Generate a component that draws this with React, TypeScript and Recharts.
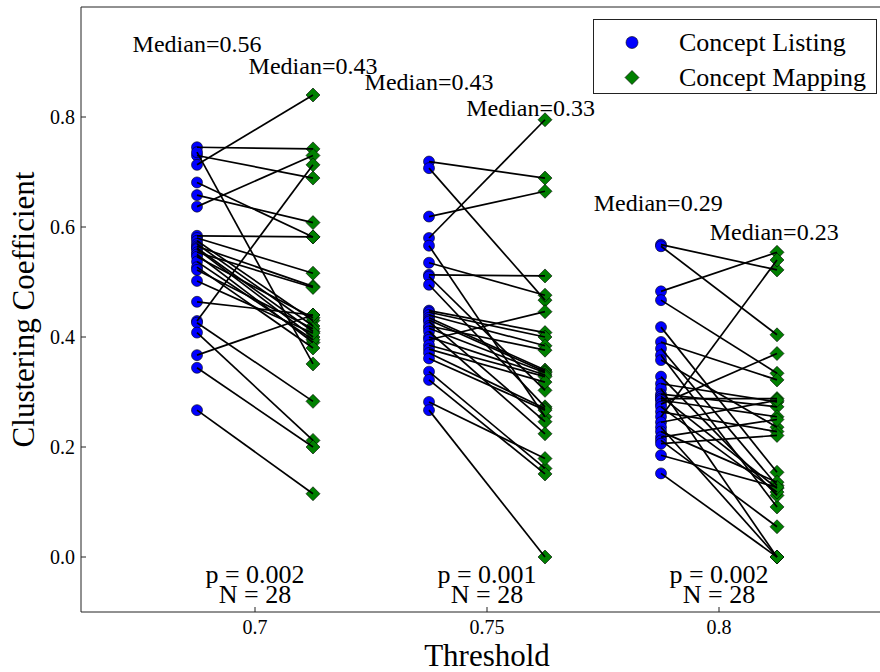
import React from 'react';
import { ComposedChart, Scatter, XAxis, YAxis, Legend, ReferenceDot, Label } from 'recharts';

const thresholds = [0.7, 0.75, 0.8];
const listingX = [0.6875, 0.7375, 0.7875];
const mappingX = [0.7125, 0.7625, 0.8125];

// threshold 0.7 — listing[i] is paired with mapping[i]
const listing070 = [0.745, 0.73, 0.736, 0.713, 0.681, 0.658, 0.637, 0.584, 0.58, 0.575, 0.569, 0.565, 0.562, 0.56, 0.554, 0.55, 0.546, 0.537, 0.527, 0.522, 0.502, 0.464, 0.429, 0.426, 0.408, 0.367, 0.344, 0.267];
const mapping070 = [0.742, 0.689, 0.351, 0.84, 0.582, 0.608, 0.73, 0.582, 0.516, 0.43, 0.42, 0.492, 0.41, 0.4, 0.49, 0.39, 0.435, 0.395, 0.38, 0.415, 0.407, 0.44, 0.713, 0.283, 0.212, 0.44, 0.2, 0.115];

// threshold 0.75
const listing075 = [0.719, 0.707, 0.619, 0.58, 0.566, 0.535, 0.513, 0.51, 0.495, 0.448, 0.445, 0.44, 0.435, 0.431, 0.428, 0.42, 0.416, 0.41, 0.4, 0.395, 0.385, 0.378, 0.371, 0.361, 0.337, 0.322, 0.282, 0.267];
const mapping075 = [0.689, 0.467, 0.665, 0.795, 0.255, 0.476, 0.511, 0.303, 0.273, 0.408, 0.4, 0.384, 0.34, 0.337, 0.246, 0.376, 0.335, 0.224, 0.331, 0.446, 0.328, 0.318, 0.27, 0.267, 0.161, 0.151, 0.179, 0.0];

// threshold 0.8
const listing080 = [0.568, 0.565, 0.483, 0.467, 0.418, 0.391, 0.379, 0.367, 0.358, 0.328, 0.315, 0.306, 0.296, 0.292, 0.288, 0.285, 0.278, 0.273, 0.264, 0.255, 0.245, 0.236, 0.228, 0.218, 0.212, 0.206, 0.185, 0.152];
const mapping080 = [0.522, 0.404, 0.554, 0.334, 0.154, 0.322, 0.13, 0.091, 0.236, 0.112, 0.282, 0.0, 0.273, 0.125, 0.288, 0.255, 0.37, 0.118, 0.228, 0.54, 0.285, 0.0, 0.136, 0.25, 0.055, 0.221, 0.127, 0.0];

const medianListing = ['0.56', '0.43', '0.29'];
const medianMapping = ['0.43', '0.33', '0.23'];
const pValues = ['0.002', '0.001', '0.002'];
const sampleSizes = [28, 28, 28];

const yTicks = [0, 0.2, 0.4, 0.6, 0.8];

// where the annotation text sits (data coords)
const medianListingPos = [[0.6875, 0.933], [0.7375, 0.864], [0.7869, 0.644]];
const medianMappingPos = [[0.7125, 0.893], [0.7594, 0.818], [0.8119, 0.591]];
const pY = -0.031;
const nY = -0.067;

const FONT = "'Liberation Serif', 'Times New Roman', serif";

const groups = [
  { listing: listing070, mapping: mapping070 },
  { listing: listing075, mapping: mapping075 },
  { listing: listing080, mapping: mapping080 },
];

const listingPoints = groups.flatMap((g, i) => g.listing.map((y) => ({ x: listingX[i], y })));
const mappingPoints = groups.flatMap((g, i) => g.mapping.map((y) => ({ x: mappingX[i], y })));
const pairs = groups.flatMap((g, i) =>
  g.listing.map((y, j) => [
    { x: listingX[i], y },
    { x: mappingX[i], y: g.mapping[j] },
  ])
);

const circleShape = (props: any) => (
  <circle cx={props.cx} cy={props.cy} r={5.5} fill="#0000ff" stroke="#000" strokeWidth={0.6} />
);

const diamondShape = (props: any) => {
  const { cx, cy } = props;
  const d = 7;
  return (
    <polygon
      points={`${cx},${cy - d} ${cx + d},${cy} ${cx},${cy + d} ${cx - d},${cy}`}
      fill="#008000"
      stroke="#000"
      strokeWidth={0.6}
    />
  );
};

const noShape = () => <g />;

const renderLegend = () => (
  <div
    style={{
      boxSizing: 'border-box',
      width: 284,
      height: 75,
      border: '1px solid #222',
      background: '#fff',
      position: 'relative',
      fontFamily: FONT,
      fontSize: 26,
      color: '#000',
    }}
  >
    <div style={{ position: 'absolute', top: 5, left: 0, height: 35, lineHeight: '35px', whiteSpace: 'nowrap' }}>
      <svg width={76} height={35} style={{ verticalAlign: 'top' }}>
        <circle cx={38} cy={17.5} r={6} fill="#0000ff" stroke="#000" strokeWidth={0.6} />
      </svg>
      <span style={{ marginLeft: 9 }}>Concept Listing</span>
    </div>
    <div style={{ position: 'absolute', top: 40, left: 0, height: 35, lineHeight: '35px', whiteSpace: 'nowrap' }}>
      <svg width={76} height={35} style={{ verticalAlign: 'top' }}>
        <polygon points="38,10.5 45,17.5 38,24.5 31,17.5" fill="#008000" stroke="#000" strokeWidth={0.6} />
      </svg>
      <span style={{ marginLeft: 9 }}>Concept Mapping</span>
    </div>
  </div>
);

const yLabel = (props: any) => {
  const { viewBox } = props;
  const cy = viewBox.y + viewBox.height / 2;
  return (
    <text
      x={23}
      y={cy}
      transform={`rotate(-90, 23, ${cy})`}
      textAnchor="middle"
      dy="0.355em"
      style={{ fontSize: 31, fontFamily: FONT }}
      fill="#000"
    >
      Clustering Coefficient
    </text>
  );
};

const textStyle = { fontSize: 24, fill: '#000', style: { fontFamily: FONT } };

export default function App() {
  return (
    <div
      style={{
        position: 'fixed',
        left: 0,
        top: 0,
        width: 880,
        height: 672,
        overflow: 'hidden',
        background: '#fff',
        fontFamily: FONT,
      }}
    >
      <ComposedChart width={900} height={672} margin={{ top: 6, right: 6, bottom: 0, left: 0 }} style={{ fontFamily: FONT }}>
        <XAxis
          xAxisId={0}
          dataKey="x"
          type="number"
          domain={[0.6625, 0.8375]}
          ticks={thresholds}
          interval={0}
          height={60}
          stroke="#222"
          tickSize={-5}
          tickMargin={13}
          tick={{ fontSize: 20, fill: '#000' }}
          allowDataOverflow
        >
          <Label value="Threshold" position="insideBottom" offset={6} fontSize={31} fill="#000" />
        </XAxis>
        <XAxis
          xAxisId="top"
          orientation="top"
          dataKey="x"
          type="number"
          domain={[0.6625, 0.8375]}
          ticks={thresholds}
          interval={0}
          height={1}
          stroke="#222"
          tickSize={-5}
          tick={false}
          allowDataOverflow
        />
        <YAxis
          yAxisId={0}
          dataKey="y"
          type="number"
          domain={[-0.1, 1.0]}
          ticks={yTicks}
          interval={0}
          width={81}
          stroke="#222"
          tickSize={-5}
          tickMargin={11}
          tickFormatter={(v: number) => v.toFixed(1)}
          tick={{ fontSize: 20, fill: '#000' }}
          allowDataOverflow
          label={yLabel}
        />
        <YAxis
          yAxisId="right"
          orientation="right"
          dataKey="y"
          type="number"
          domain={[-0.1, 1.0]}
          ticks={yTicks}
          interval={0}
          width={1}
          stroke="#222"
          tickSize={-5}
          tick={false}
          allowDataOverflow
        />
        <Legend
          layout="horizontal"
          verticalAlign="middle"
          align="center"
          content={renderLegend}
          wrapperStyle={{ top: 19, left: 593, width: 284, height: 75 }}
        />
        <Scatter data={listingPoints} dataKey="y" shape={circleShape} legendType="none" isAnimationActive={false} />
        <Scatter data={mappingPoints} dataKey="y" shape={diamondShape} legendType="none" isAnimationActive={false} />
        {pairs.map((p, k) => (
          <Scatter
            key={k}
            data={p}
            dataKey="y"
            line={{ stroke: '#000', strokeWidth: 1.7 }}
            shape={noShape}
            legendType="none"
            isAnimationActive={false}
          />
        ))}
        {thresholds.map((t, i) => (
          <ReferenceDot
            key={'ml' + i}
            x={medianListingPos[i][0]}
            y={medianListingPos[i][1]}
            r={0}
            fill="none"
            stroke="none"
            label={{ value: 'Median=' + medianListing[i], position: 'center', ...textStyle }}
          />
        ))}
        {thresholds.map((t, i) => (
          <ReferenceDot
            key={'mm' + i}
            x={medianMappingPos[i][0]}
            y={medianMappingPos[i][1]}
            r={0}
            fill="none"
            stroke="none"
            label={{ value: 'Median=' + medianMapping[i], position: 'center', ...textStyle }}
          />
        ))}
        {thresholds.map((t, i) => (
          <ReferenceDot
            key={'p' + i}
            x={t}
            y={pY}
            r={0}
            fill="none"
            stroke="none"
            label={{ value: 'p = ' + pValues[i], position: 'center', ...textStyle, fontSize: 26 }}
          />
        ))}
        {thresholds.map((t, i) => (
          <ReferenceDot
            key={'n' + i}
            x={t}
            y={nY}
            r={0}
            fill="none"
            stroke="none"
            label={{ value: 'N = ' + sampleSizes[i], position: 'center', ...textStyle, fontSize: 26 }}
          />
        ))}
      </ComposedChart>
    </div>
  );
}
